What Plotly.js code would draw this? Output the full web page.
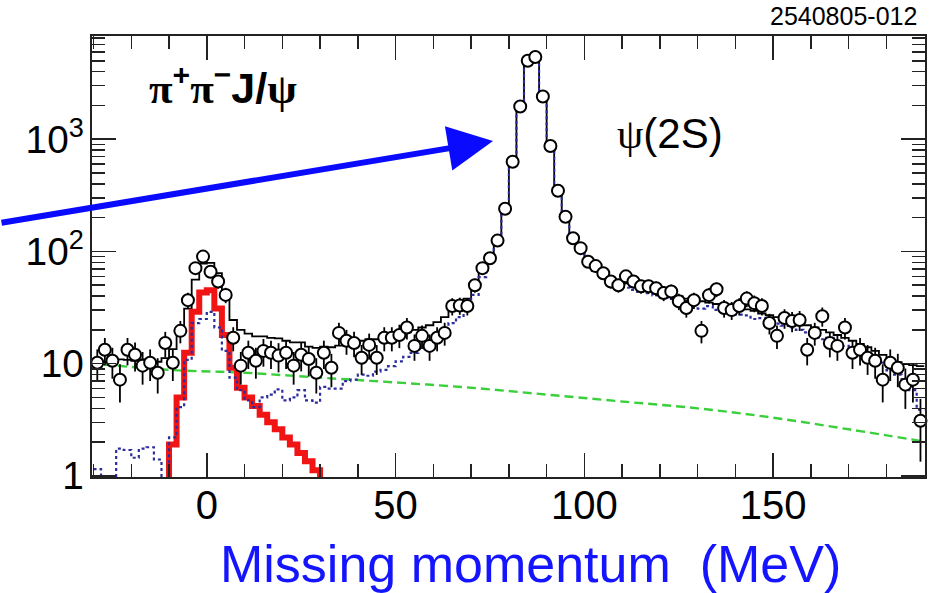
<!DOCTYPE html>
<html>
<head>
<meta charset="utf-8">
<script src="https://cdn.plot.ly/plotly-3.0.1.min.js"></script>
<style>
  html, body { margin: 0; padding: 0; background: #fff; }
  #plot { width: 934px; height: 593px; }
</style>
</head>
<body>
<div id="plot"></div>
<script>
// Missing-momentum spectrum for pi+ pi- J/psi candidates, 2 MeV bins.
const binWidth = 2;

const binCenters = [
  -29, -27, -25, -23, -21, -19, -17, -15, -13, -11,
  -9, -7, -5, -3, -1, 1, 3, 5, 7, 9,
  11, 13, 15, 17, 19, 21, 23, 25, 27, 29,
  31, 33, 35, 37, 39, 41, 43, 45, 47, 49,
  51, 53, 55, 57, 59, 61, 63, 65, 67, 69,
  71, 73, 75, 77, 79, 81, 83, 85, 87, 89,
  91, 93, 95, 97, 99, 101, 103, 105, 107, 109,
  111, 113, 115, 117, 119, 121, 123, 125, 127, 129,
  131, 133, 135, 137, 139, 141, 143, 145, 147, 149,
  151, 153, 155, 157, 159, 161, 163, 165, 167, 169,
  171, 173, 175, 177, 179, 181, 183, 185, 187, 189
];

// Events per bin (data)
const dataCounts = [
  10.2, 13.3, 10.6, 7.2, 13.3, 12.0, 9.6, 10.2, 8.3, 15.3,
  10.2, 19.6, 36.8, 71, 90, 66, 54, 41, 17, 9.6,
  12.5, 10.6, 13, 12.5, 11.8, 12.5, 9.6, 12, 11, 8.3,
  12.5, 9.2, 18.8, 16, 15.3, 11.3, 14.7, 11.3, 17, 17,
  18, 21, 14.4, 17.7, 14.4, 17, 18.8, 32.6, 33, 32.6,
  50, 71, 87, 125, 240, 630, 1960, 5000, 5400, 2400,
  870, 347, 204, 131, 107, 81, 74, 64, 54, 50,
  60, 54, 49, 49, 47, 42.6, 44, 36, 31.3, 36.8,
  19.6, 40.8, 46, 31.3, 30, 32.6, 38, 34.6, 32.6, 23,
  17.7, 25.5, 24, 24.5, 13.3, 18.8, 26.5, 15.3, 14.4, 21,
  12.5, 13.3, 11.3, 10.6, 7.2, 10.2, 9.2, 6.5, 7.2, 3.1
];

// Sum of all fitted components
const totalFit = [
  10.9, 10.3, 10.3, 10.9, 10.8, 10.6, 10.9, 10.8, 10.4, 11.2,
  13.5, 18, 31, 56, 78, 79, 64, 44, 24.5, 20,
  18.5, 17.5, 17.5, 17, 16.8, 16, 15.5, 15.5, 14.2, 13.8,
  14.2, 14, 14.5, 15.5, 16, 16, 16.5, 16.5, 17, 17.5,
  18, 19, 20, 21, 22, 23.5, 26, 30, 33, 38,
  48, 66, 88, 125, 240, 620, 1950, 5000, 5400, 2350,
  860, 345, 205, 135, 105, 84, 72, 64, 58, 55,
  52, 50, 48, 47, 45, 43, 42, 40, 38, 37,
  36, 35, 34, 33, 32, 31, 30.5, 29.5, 28, 27,
  26, 25, 24, 23, 22, 21, 20, 19, 18, 17,
  16, 15, 14, 13, 12, 11, 10.3, 9.9, 9.7, 9.5
];

// psi(2S) -> pi+ pi- J/psi signal shape
const psi2sShape = [
  1.15, 0.5, 0.5, 1.75, 1.7, 1.45, 1.75, 1.8, 1.4, 0.6,
  2.2, 4.1, 10.8, 23, 25, 29, 21, 13, 7.5, 5.8,
  4.7, 4.1, 5.0, 5.3, 5.9, 4.7, 5.0, 5.8, 4.7, 4.5,
  6.2, 6.0, 6.0, 7.0, 7.2, 8.0, 7.8, 8.5, 8.8, 9.5,
  10.5, 11.5, 12.5, 13.5, 14.5, 16.5, 19.5, 23, 26, 31,
  41, 59, 81, 118, 233, 612, 1940, 4990, 5390, 2340,
  853, 339, 199, 130, 100, 79, 67, 59, 53, 50,
  47.5, 45.5, 43.5, 42.5, 40.5, 38.7, 37.7, 35.8, 33.8, 33,
  31, 32.5, 30.2, 29.3, 28.4, 27.4, 26.9, 25, 25.5, 23.7,
  22.7, 21.8, 20.9, 20, 19, 18, 16.5, 17, 15.3, 14.4,
  13.4, 12.5, 11.5, 9.8, 10.2, 8.7, 8.0, 7.2, 5.8, 3.9
];

// Peaking component near zero missing momentum
const redBins = [
  -11, -9, -7, -5, -3, -1, 1, 3, 5, 7, 9, 11,
  13, 15, 17, 19, 21, 23, 25, 27, 29, 31, 33
];
const redShape = [
  0.5, 1.9, 5.0, 12.5, 29, 43, 45, 31, 18, 9.2, 6.1, 5.0,
  4.2, 3.5, 3.0, 2.6, 2.2, 1.9, 1.6, 1.35, 1.12, 0.9, 0.7
];

// Smooth background
const bkgX = [-31, -10, 10, 30, 50, 70, 90, 110, 130, 150, 170, 191];
const bkgY = [10.1, 8.8, 8.3, 7.5, 6.8, 6.1, 5.3, 4.6, 4.0, 3.3, 2.6, 2.0];

// Turn per-bin contents into a histogram outline (left edges + closing edge)
function stepXY(centers, values) {
  const half = binWidth / 2;
  const x = centers.map(c => c - half);
  x.push(centers[centers.length - 1] + half);
  const y = values.slice();
  y.push(values[values.length - 1]);
  return { x, y };
}

const totalStep = stepXY(binCenters, totalFit);
const sigStep = stepXY(binCenters, psi2sShape);
const redStep = stepXY(redBins, redShape);

const traces = [
  {
    x: bkgX, y: bkgY, type: 'scatter', mode: 'lines',
    line: { color: '#3ccf3c', width: 2.4, dash: '9px,5px', shape: 'spline' },
    hoverinfo: 'skip'
  },
  {
    x: totalStep.x, y: totalStep.y, type: 'scatter', mode: 'lines',
    line: { color: '#000', width: 1.8, shape: 'hv' },
    hoverinfo: 'skip'
  },
  {
    x: redStep.x, y: redStep.y, type: 'scatter', mode: 'lines',
    line: { color: '#f01414', width: 6, shape: 'hv' },
    hoverinfo: 'skip'
  },
  {
    x: sigStep.x, y: sigStep.y, type: 'scatter', mode: 'lines',
    line: { color: '#2c2c9c', width: 2.2, dash: 'dot', shape: 'hv' },
    hoverinfo: 'skip'
  },
  {
    x: binCenters, y: dataCounts, type: 'scatter', mode: 'markers',
    marker: { symbol: 'circle', size: 12, color: '#fff', line: { color: '#000', width: 2 } },
    error_y: { type: 'sqrt', visible: true, color: '#000', thickness: 1.8, width: 0 },
    cliponaxis: false
  }
];

const axisLine = '#222';
const layout = {
  width: 934, height: 593,
  margin: { l: 92, r: 9, t: 36, b: 116, pad: 0 },
  showlegend: false,
  paper_bgcolor: '#fff', plot_bgcolor: '#fff',
  font: { family: 'Liberation Sans, Arial, sans-serif', color: '#000' },
  xaxis: {
    range: [-30.4, 190.2],
    tick0: 0, dtick: 50,
    ticks: 'inside', ticklen: 24, tickwidth: 1.5, tickcolor: axisLine,
    minor: { dtick: 10, ticks: 'inside', ticklen: 13, tickwidth: 1.5, tickcolor: axisLine, showgrid: false },
    showline: true, linewidth: 2, linecolor: axisLine, mirror: 'allticks',
    showgrid: false, zeroline: false,
    ticklabelstandoff: -8,
    tickfont: { size: 40 }
  },
  yaxis: {
    type: 'log',
    range: [-0.01, 3.92],
    dtick: 1, exponentformat: 'power',
    ticks: 'inside', ticklen: 24, tickwidth: 1.5, tickcolor: axisLine,
    minor: { dtick: 'D1', ticks: 'inside', ticklen: 13, tickwidth: 1.5, tickcolor: axisLine, showgrid: false },
    showline: true, linewidth: 2, linecolor: axisLine, mirror: 'allticks',
    showgrid: false, zeroline: false,
    tickfont: { size: 31 }
  },
  annotations: [
    {
      xref: 'paper', yref: 'paper', x: 0.4814, y: 0.762,
      text: '', showarrow: true,
      ax: -493, ay: 82, axref: 'pixel', ayref: 'pixel',
      arrowhead: 2, arrowsize: 1.5, arrowwidth: 6, arrowcolor: '#0a0aff'
    },
    {
      xref: 'paper', yref: 'paper', x: 0.157, y: 0.888,
      xanchor: 'center', yanchor: 'middle', showarrow: false,
      text: '<b><span style="font-family:Liberation Serif">π</span><sup>+</sup><span style="font-family:Liberation Serif">π</span><sup>−</sup>J/<span style="font-family:Liberation Serif">ψ</span></b>',
      font: { size: 43, color: '#000' }
    },
    {
      xref: 'paper', yref: 'paper', x: 0.694, y: 0.778,
      xanchor: 'center', yanchor: 'middle', showarrow: false,
      text: '<span style="font-family:Liberation Serif">ψ</span>(2S)',
      font: { size: 42, color: '#000' }
    },
    {
      xref: 'paper', yref: 'paper', x: 0.9016, y: 1.045,
      xanchor: 'center', yanchor: 'middle', showarrow: false,
      text: '2540805-012',
      font: { size: 25, color: '#000' }
    },
    {
      xref: 'paper', yref: 'paper', x: 0.526, y: -0.197,
      xanchor: 'center', yanchor: 'middle', showarrow: false,
      text: 'Missing momentum\u00a0\u00a0(MeV)',
      font: { size: 52, color: '#1414ff' }
    }
  ]
};

Plotly.newPlot('plot', traces, layout, { displayModeBar: false, staticPlot: true });
</script>
</body>
</html>
